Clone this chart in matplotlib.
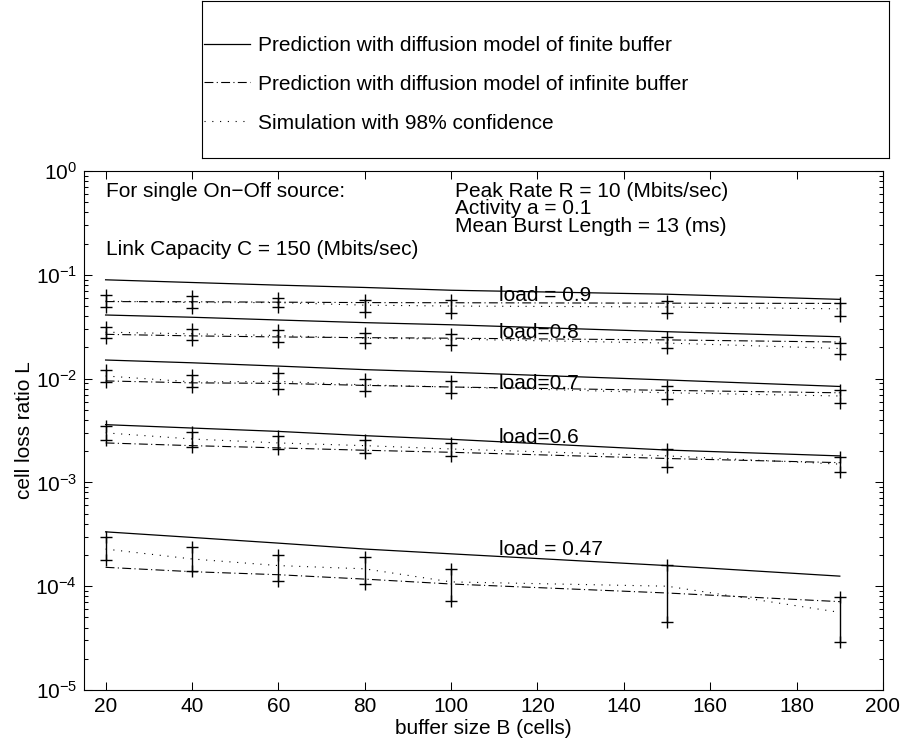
#!/usr/bin/env python3

import numpy as np
import matplotlib
matplotlib.use('Agg')
from matplotlib import pyplot as plt

plt.rcParams['font.family'] = ['Liberation Sans', 'DejaVu Sans']
plt.rcParams['font.size'] = 15

buffer_size = [20, 40, 60, 80, 100, 150, 190]
load_labels = ['load = 0.9', 'load=0.8', 'load=0.7', 'load=0.6', 'load = 0.47']
load_label_y = [0.056, 0.0244, 0.0079, 0.0024, 0.0002]

# rows: load 0.9, 0.8, 0.7, 0.6, 0.47
finite_model = [
    [0.0895, 0.0843, 0.0795, 0.0755, 0.071, 0.065, 0.058],
    [0.041, 0.039, 0.0367, 0.0346, 0.033, 0.0283, 0.0253],
    [0.0151, 0.0142, 0.0132, 0.0122, 0.0115, 0.0097, 0.0084],
    [0.0036, 0.00334, 0.0031, 0.00282, 0.0026, 0.00205, 0.0018],
    [3.34e-4, 2.95e-4, 2.6e-4, 2.28e-4, 2.05e-4, 1.58e-4, 1.25e-4],
]
infinite_model = [
    [0.0552, 0.0550, 0.0545, 0.0540, 0.0538, 0.0533, 0.0530],
    [0.0267, 0.0258, 0.0252, 0.0248, 0.0245, 0.0236, 0.0225],
    [0.0095, 0.0091, 0.0090, 0.0086, 0.0083, 0.0077, 0.0073],
    [0.0024, 0.00226, 0.00215, 0.00204, 0.00195, 0.0017, 0.00155],
    [1.52e-4, 1.38e-4, 1.29e-4, 1.17e-4, 1.05e-4, 8.6e-5, 7.1e-5],
]
simulation = [
    [0.056, 0.054, 0.054, 0.051, 0.050, 0.049, 0.047],
    [0.028, 0.027, 0.026, 0.0245, 0.024, 0.022, 0.0195],
    [0.0106, 0.0093, 0.0094, 0.0087, 0.0083, 0.0073, 0.0068],
    [0.0030, 0.00262, 0.0024, 0.00226, 0.0021, 0.0018, 0.0015],
    [2.28e-4, 1.83e-4, 1.58e-4, 1.47e-4, 1.1e-4, 1.0e-4, 5.6e-5],
]
sim_high = [
    [0.064, 0.0627, 0.0596, 0.0573, 0.057, 0.056, 0.054],
    [0.0316, 0.0298, 0.0294, 0.0277, 0.027, 0.0253, 0.0222],
    [0.0121, 0.0108, 0.0112, 0.0100, 0.0095, 0.0085, 0.0077],
    [0.00352, 0.00303, 0.00278, 0.00255, 0.0024, 0.0021, 0.00174],
    [2.95e-4, 2.37e-4, 2.0e-4, 1.9e-4, 1.45e-4, 1.6e-4, 7.8e-5],
]
sim_low = [
    [0.049, 0.0476, 0.0494, 0.0442, 0.043, 0.043, 0.040],
    [0.0248, 0.0235, 0.0226, 0.0218, 0.021, 0.0196, 0.0171],
    [0.0093, 0.0083, 0.0080, 0.0076, 0.0073, 0.0063, 0.0058],
    [0.00258, 0.0022, 0.0021, 0.00193, 0.0018, 0.00142, 0.00126],
    [1.8e-4, 1.41e-4, 1.13e-4, 1.04e-4, 7.2e-5, 4.57e-5, 2.93e-5],
]

W, H = 906, 751
fig = plt.figure(figsize=(W / 100, H / 100), dpi=100)
ax = fig.add_axes([84 / W, 1 - 690 / H, (883 - 84) / W, (690 - 171) / H])

dashdot = (0, (8, 3, 1, 3))
dotted = (0, (1, 6))
for i in range(len(finite_model)):
    l1, = ax.plot(buffer_size, finite_model[i], color='k', lw=0.9)
    l2, = ax.plot(buffer_size, infinite_model[i], color='k', lw=0.8, ls=dashdot)
    l3, = ax.plot(buffer_size, simulation[i], color='k', lw=0.8, ls=dotted)
    ax.vlines(buffer_size, sim_low[i], sim_high[i], color='k', lw=1.0)
    ax.plot(buffer_size, sim_low[i], 'k+', ms=8, mew=1.0)
    ax.plot(buffer_size, sim_high[i], 'k+', ms=8, mew=1.0)
    ax.text(111, load_label_y[i], load_labels[i], va='baseline', ha='left')

ax.set_yscale('log')
ax.set_xlim(15, 200)
ax.set_ylim(1e-5, 1)
ax.set_xticks(np.arange(20, 201, 20))
ax.tick_params(which='both', direction='in', top=True, right=True, width=0.75)
ax.tick_params(which='major', length=6, pad=5)
ax.tick_params(which='minor', length=3)
for s in ax.spines.values():
    s.set_linewidth(0.8)
ax.set_xlabel('buffer size B (cells)', labelpad=2)
ax.set_ylabel('cell loss ratio L', labelpad=1)

ax.text(20, 0.567, 'For single On\u2212Off source:', va='baseline')
ax.text(20, 0.155, 'Link Capacity C = 150 (Mbits/sec)', va='baseline')
ax.text(101, 0.567, 'Peak Rate R = 10 (Mbits/sec)', va='baseline')
ax.text(101, 0.385, 'Activity a = 0.1', va='baseline')
ax.text(101, 0.26, 'Mean Burst Length = 13 (ms)', va='baseline')

# legend box above the axes
lax = fig.add_axes([202 / W, 1 - 158 / H, (889 - 202) / W, 157 / H])
lax.set_xticks([])
lax.set_yticks([])
for s in lax.spines.values():
    s.set_linewidth(0.8)
lax.legend([l1, l2, l3],
           ['Prediction with diffusion model of finite buffer',
            'Prediction with diffusion model of infinite buffer',
            'Simulation with 98% confidence'],
           loc='center left', bbox_to_anchor=(0, 0.47), frameon=False,
           handlelength=2.2, labelspacing=0.95, borderaxespad=0.0,
           borderpad=0.1, handletextpad=0.4)

fig.savefig('out.png', dpi=100)
